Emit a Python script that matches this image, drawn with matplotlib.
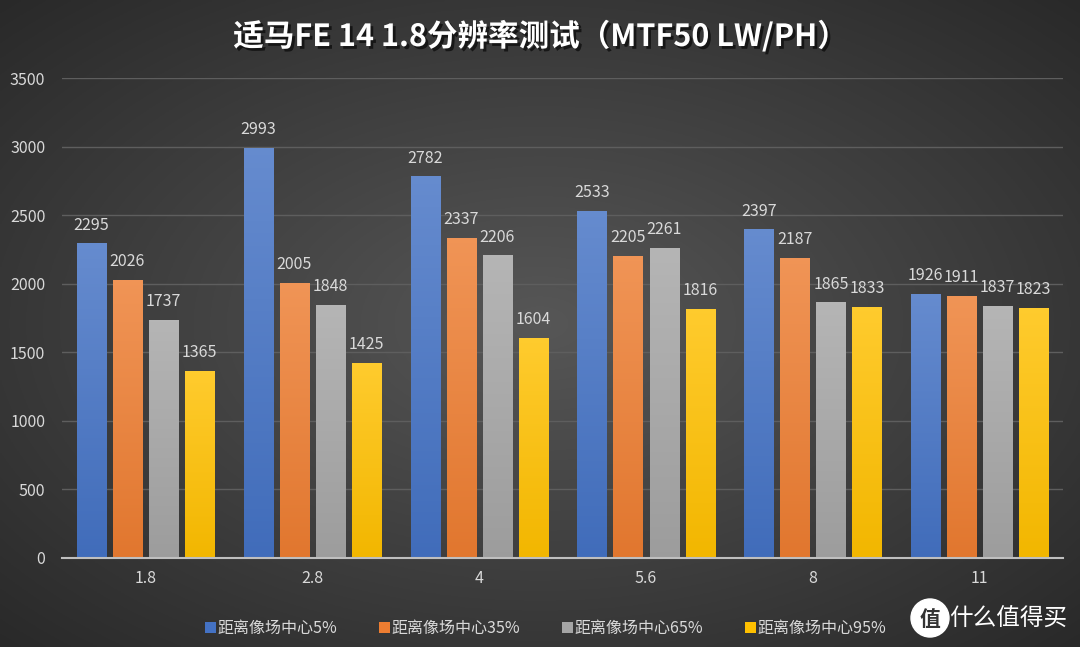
import numpy as np
import matplotlib
matplotlib.use('Agg')
import matplotlib.pyplot as plt
from matplotlib.patches import Circle
import matplotlib.patheffects as pe
from matplotlib.colors import to_rgb

plt.rcParams['font.family'] = ['Noto Sans CJK SC', 'DejaVu Sans']

# 数据
apertures = ['1.8', '2.8', '4', '5.6', '8', '11']
series_names = ['距离像场中心5%', '距离像场中心35%', '距离像场中心65%', '距离像场中心95%']
center_5 = [2295, 2993, 2782, 2533, 2397, 1926]
center_35 = [2026, 2005, 2337, 2205, 2187, 1911]
center_65 = [1737, 1848, 2206, 2261, 1865, 1837]
center_95 = [1365, 1425, 1604, 1816, 1833, 1823]
all_series = [center_5, center_35, center_65, center_95]

colors = ['#4472c4', '#ed7d31', '#a5a5a5', '#ffc000']
txt_color = '#d9d9d9'

fig = plt.figure(figsize=(10.8, 6.47), dpi=100)

# 背景：径向渐变
bg = fig.add_axes([0, 0, 1, 1], zorder=-10)
yy, xx = np.mgrid[0:1:300j, 0:1:500j]
r = np.sqrt(((xx - 0.5) / 0.75) ** 2 + ((yy - 0.5) / 0.75) ** 2)
r = np.clip(r / 0.95, 0, 1)
c_in = np.array([0.34, 0.34, 0.34])
c_out = np.array([0.16, 0.16, 0.16])
img = c_in[None, None, :] * (1 - r[..., None]) + c_out[None, None, :] * r[..., None]
bg.imshow(img, extent=[0, 1, 0, 1], aspect='auto', origin='lower')
bg.set_xlim(0, 1)
bg.set_ylim(0, 1)
bg.axis('off')

ax = fig.add_axes([0.0574, 0.1376, 0.927, 0.7418])
ax.patch.set_alpha(0)

x = np.arange(len(apertures))
width = 0.174
pitch = 0.216
offsets = (np.arange(4) - 1.5) * pitch

grad = np.linspace(0, 1, 100)[:, None]
for i, (vals, col) in enumerate(zip(all_series, colors)):
    base = np.array(to_rgb(col))
    light = base + (1 - base) * 0.18
    dark = base * 0.95
    gimg = dark[None, None, :] * (1 - grad[..., None]) + light[None, None, :] * grad[..., None]
    bars = ax.bar(x + offsets[i], vals, width, color=col, zorder=3, label=series_names[i])
    for b, v in zip(bars, vals):
        im = ax.imshow(gimg, extent=[b.get_x(), b.get_x() + width, 0, v],
                       origin='lower', aspect='auto', zorder=3.5)
        im.set_clip_path(b)
        ax.annotate(str(v), (b.get_x() + width / 2, v), xytext=(0, 7),
                    textcoords='offset points', ha='center', va='bottom',
                    color=txt_color, fontsize=11.5)

ax.set_xlim(-0.5, len(apertures) - 0.5)
ax.set_ylim(0, 3500)
ax.set_yticks(np.arange(0, 3501, 500))
ax.set_xticks(x)
ax.set_xticklabels(apertures)
ax.tick_params(axis='both', length=0, colors=txt_color, labelsize=11.5)
ax.tick_params(axis='x', pad=9)
ax.tick_params(axis='y', pad=12)
ax.grid(axis='y', color='#5e5e5e', linewidth=1, zorder=0)
for s in ['top', 'right', 'left']:
    ax.spines[s].set_visible(False)
ax.spines['bottom'].set_color('#bfbfbf')
ax.spines['bottom'].set_linewidth(1.5)
ax.spines['bottom'].set_zorder(4)

# 标题
fig.text(0.5, 0.943, '适马FE 14 1.8分辨率测试（MTF50 LW/PH）', ha='center', va='center',
         color='white', fontsize=22, fontweight='bold',
         path_effects=[pe.withSimplePatchShadow(offset=(2, -2), shadow_rgbFace='black', alpha=0.6)])

# 图例
leg = ax.legend(loc='upper center', bbox_to_anchor=(0.483, -0.1), ncol=4, frameon=False,
                fontsize=11.5, labelcolor=txt_color, handlelength=0.6, handleheight=0.6,
                handletextpad=0.2, columnspacing=2.6)
for h in leg.legend_handles:
    h.set_height(8)
    h.set_width(8)

# 水印
wm = fig.add_axes([0, 0, 1, 1], zorder=5)
wm.set_xlim(0, 1080)
wm.set_ylim(647, 0)
wm.axis('off')
wm.add_patch(Circle((930, 618), 19, color='white'))
wm.text(930, 619, '值', ha='center', va='center', fontsize=15, fontweight='bold', color='#333333')
wm.text(1008, 619, '什么值得买', ha='center', va='center', fontsize=17, color='white')

fig.savefig('out.png', dpi=100)
